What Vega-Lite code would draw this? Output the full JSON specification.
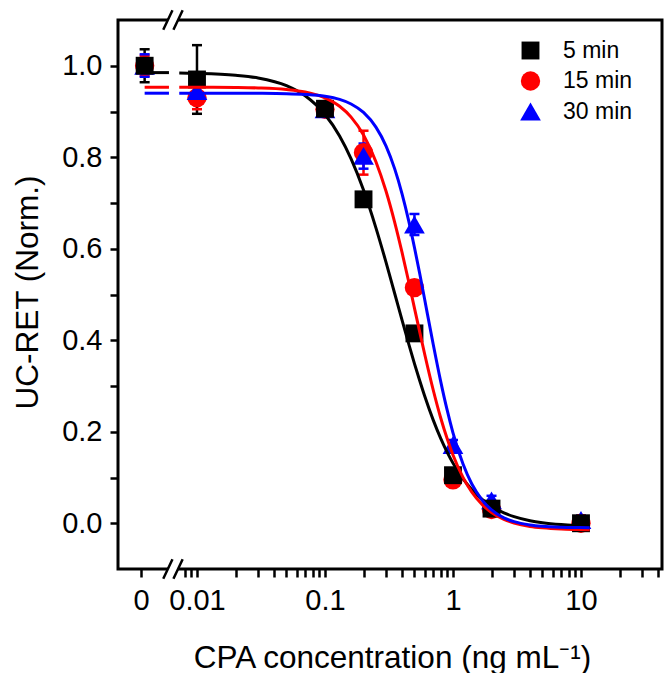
{
  "$schema": "https://vega.github.io/schema/vega-lite/v6.json",
  "width": 544,
  "height": 549,
  "autosize": {"type": "none"},
  "padding": {"left": 118, "top": 20, "right": 5, "bottom": 104},
  "background": "white",
  "config": {
    "view": {"stroke": "black", "strokeWidth": 3},
    "font": "Liberation Sans",
    "axis": {
      "grid": false, "domain": false, "tickColor": "black", "tickWidth": 2.5,
      "labelColor": "black", "titleColor": "black",
      "labelFont": "Liberation Sans", "titleFont": "Liberation Sans",
      "labelFontSize": 29, "titleFontSize": 31.5, "titleFontWeight": "normal",
      "labelOverlap": false, "labelFlush": false, "labelBound": false
    },
    "legend": {"labelFont": "Liberation Sans", "labelFontSize": 23, "labelColor": "black"}
  },
  "datasets": {
    "pts": [
      {"series": "15 min", "conc": 0.0039, "ret": 1.0, "lo": 0.978, "hi": 1.022},
      {"series": "15 min", "conc": 0.01, "ret": 0.93, "lo": 0.905, "hi": 0.955},
      {"series": "15 min", "conc": 0.1, "ret": 0.905, "lo": 0.895, "hi": 0.915},
      {"series": "15 min", "conc": 0.2, "ret": 0.81, "lo": 0.762, "hi": 0.858},
      {"series": "15 min", "conc": 0.5, "ret": 0.515, "lo": 0.505, "hi": 0.525},
      {"series": "15 min", "conc": 1, "ret": 0.095, "lo": 0.085, "hi": 0.105},
      {"series": "15 min", "conc": 2, "ret": 0.03, "lo": 0.02, "hi": 0.04},
      {"series": "15 min", "conc": 10, "ret": 0.0, "lo": -0.01, "hi": 0.01},
      {"series": "30 min", "conc": 0.0039, "ret": 1.0, "lo": 0.976, "hi": 1.025},
      {"series": "30 min", "conc": 0.01, "ret": 0.945, "lo": 0.935, "hi": 0.955},
      {"series": "30 min", "conc": 0.1, "ret": 0.905, "lo": 0.895, "hi": 0.915},
      {"series": "30 min", "conc": 0.2, "ret": 0.803, "lo": 0.775, "hi": 0.83},
      {"series": "30 min", "conc": 0.5, "ret": 0.653, "lo": 0.63, "hi": 0.676},
      {"series": "30 min", "conc": 1, "ret": 0.171, "lo": 0.16, "hi": 0.182},
      {"series": "30 min", "conc": 2, "ret": 0.05, "lo": 0.04, "hi": 0.06},
      {"series": "30 min", "conc": 10, "ret": 0.007, "lo": -0.003, "hi": 0.017},
      {"series": "5 min", "conc": 0.0039, "ret": 1.0, "lo": 0.964, "hi": 1.036},
      {"series": "5 min", "conc": 0.01, "ret": 0.97, "lo": 0.895, "hi": 1.045},
      {"series": "5 min", "conc": 0.1, "ret": 0.906, "lo": 0.896, "hi": 0.916},
      {"series": "5 min", "conc": 0.2, "ret": 0.708, "lo": 0.695, "hi": 0.72},
      {"series": "5 min", "conc": 0.5, "ret": 0.415, "lo": 0.405, "hi": 0.425},
      {"series": "5 min", "conc": 1, "ret": 0.105, "lo": 0.095, "hi": 0.115},
      {"series": "5 min", "conc": 2, "ret": 0.032, "lo": 0.022, "hi": 0.042},
      {"series": "5 min", "conc": 10, "ret": 0.0, "lo": -0.01, "hi": 0.01}
    ],
    "fit": [
      {"series": "5 min", "seg": "a", "conc": 0.0039, "ret": 0.985},
      {"series": "5 min", "seg": "a", "conc": 0.00604, "ret": 0.985},
      {"series": "5 min", "seg": "b", "conc": 0.00727, "ret": 0.984},
      {"series": "5 min", "seg": "b", "conc": 0.01, "ret": 0.9833},
      {"series": "5 min", "seg": "b", "conc": 0.02, "ret": 0.9793},
      {"series": "5 min", "seg": "b", "conc": 0.03, "ret": 0.9733},
      {"series": "5 min", "seg": "b", "conc": 0.05, "ret": 0.9565},
      {"series": "5 min", "seg": "b", "conc": 0.07, "ret": 0.9343},
      {"series": "5 min", "seg": "b", "conc": 0.1, "ret": 0.8934},
      {"series": "5 min", "seg": "b", "conc": 0.13, "ret": 0.8466},
      {"series": "5 min", "seg": "b", "conc": 0.16, "ret": 0.7964},
      {"series": "5 min", "seg": "b", "conc": 0.2, "ret": 0.7283},
      {"series": "5 min", "seg": "b", "conc": 0.25, "ret": 0.6457},
      {"series": "5 min", "seg": "b", "conc": 0.3, "ret": 0.5702},
      {"series": "5 min", "seg": "b", "conc": 0.35, "ret": 0.5027},
      {"series": "5 min", "seg": "b", "conc": 0.4, "ret": 0.4439},
      {"series": "5 min", "seg": "b", "conc": 0.45, "ret": 0.393},
      {"series": "5 min", "seg": "b", "conc": 0.5, "ret": 0.3489},
      {"series": "5 min", "seg": "b", "conc": 0.55, "ret": 0.3114},
      {"series": "5 min", "seg": "b", "conc": 0.6, "ret": 0.2787},
      {"series": "5 min", "seg": "b", "conc": 0.7, "ret": 0.226},
      {"series": "5 min", "seg": "b", "conc": 0.8, "ret": 0.1862},
      {"series": "5 min", "seg": "b", "conc": 0.9, "ret": 0.1556},
      {"series": "5 min", "seg": "b", "conc": 1.0, "ret": 0.1314},
      {"series": "5 min", "seg": "b", "conc": 1.2, "ret": 0.0969},
      {"series": "5 min", "seg": "b", "conc": 1.4, "ret": 0.0739},
      {"series": "5 min", "seg": "b", "conc": 1.7, "ret": 0.0515},
      {"series": "5 min", "seg": "b", "conc": 2, "ret": 0.0371},
      {"series": "5 min", "seg": "b", "conc": 2.5, "ret": 0.0228},
      {"series": "5 min", "seg": "b", "conc": 3, "ret": 0.0144},
      {"series": "5 min", "seg": "b", "conc": 4, "ret": 0.0056},
      {"series": "5 min", "seg": "b", "conc": 5, "ret": 0.0012},
      {"series": "5 min", "seg": "b", "conc": 7, "ret": -0.0029},
      {"series": "5 min", "seg": "b", "conc": 9, "ret": -0.0048},
      {"series": "5 min", "seg": "b", "conc": 11.7, "ret": -0.006},
      {"series": "15 min", "seg": "a", "conc": 0.0039, "ret": 0.953},
      {"series": "15 min", "seg": "a", "conc": 0.00604, "ret": 0.953},
      {"series": "15 min", "seg": "b", "conc": 0.00727, "ret": 0.953},
      {"series": "15 min", "seg": "b", "conc": 0.01, "ret": 0.9529},
      {"series": "15 min", "seg": "b", "conc": 0.02, "ret": 0.9524},
      {"series": "15 min", "seg": "b", "conc": 0.03, "ret": 0.9515},
      {"series": "15 min", "seg": "b", "conc": 0.05, "ret": 0.9482},
      {"series": "15 min", "seg": "b", "conc": 0.07, "ret": 0.9427},
      {"series": "15 min", "seg": "b", "conc": 0.1, "ret": 0.9298},
      {"series": "15 min", "seg": "b", "conc": 0.13, "ret": 0.9114},
      {"series": "15 min", "seg": "b", "conc": 0.16, "ret": 0.8877},
      {"series": "15 min", "seg": "b", "conc": 0.2, "ret": 0.8487},
      {"series": "15 min", "seg": "b", "conc": 0.25, "ret": 0.7903},
      {"series": "15 min", "seg": "b", "conc": 0.3, "ret": 0.7256},
      {"series": "15 min", "seg": "b", "conc": 0.35, "ret": 0.6583},
      {"series": "15 min", "seg": "b", "conc": 0.4, "ret": 0.5919},
      {"series": "15 min", "seg": "b", "conc": 0.45, "ret": 0.5289},
      {"series": "15 min", "seg": "b", "conc": 0.5, "ret": 0.4703},
      {"series": "15 min", "seg": "b", "conc": 0.55, "ret": 0.4179},
      {"series": "15 min", "seg": "b", "conc": 0.6, "ret": 0.3705},
      {"series": "15 min", "seg": "b", "conc": 0.7, "ret": 0.2918},
      {"series": "15 min", "seg": "b", "conc": 0.8, "ret": 0.2312},
      {"series": "15 min", "seg": "b", "conc": 0.9, "ret": 0.1851},
      {"series": "15 min", "seg": "b", "conc": 1.0, "ret": 0.1491},
      {"series": "15 min", "seg": "b", "conc": 1.2, "ret": 0.0997},
      {"series": "15 min", "seg": "b", "conc": 1.4, "ret": 0.0684},
      {"series": "15 min", "seg": "b", "conc": 1.7, "ret": 0.0401},
      {"series": "15 min", "seg": "b", "conc": 2, "ret": 0.0235},
      {"series": "15 min", "seg": "b", "conc": 2.5, "ret": 0.0084},
      {"series": "15 min", "seg": "b", "conc": 3, "ret": 0.0006},
      {"series": "15 min", "seg": "b", "conc": 4, "ret": -0.0069},
      {"series": "15 min", "seg": "b", "conc": 5, "ret": -0.0101},
      {"series": "15 min", "seg": "b", "conc": 7, "ret": -0.0128},
      {"series": "15 min", "seg": "b", "conc": 9, "ret": -0.0137},
      {"series": "15 min", "seg": "b", "conc": 11.7, "ret": -0.0143},
      {"series": "30 min", "seg": "a", "conc": 0.0039, "ret": 0.94},
      {"series": "30 min", "seg": "a", "conc": 0.00604, "ret": 0.94},
      {"series": "30 min", "seg": "b", "conc": 0.00727, "ret": 0.94},
      {"series": "30 min", "seg": "b", "conc": 0.01, "ret": 0.94},
      {"series": "30 min", "seg": "b", "conc": 0.02, "ret": 0.9399},
      {"series": "30 min", "seg": "b", "conc": 0.03, "ret": 0.9397},
      {"series": "30 min", "seg": "b", "conc": 0.05, "ret": 0.939},
      {"series": "30 min", "seg": "b", "conc": 0.07, "ret": 0.9374},
      {"series": "30 min", "seg": "b", "conc": 0.1, "ret": 0.9333},
      {"series": "30 min", "seg": "b", "conc": 0.13, "ret": 0.9264},
      {"series": "30 min", "seg": "b", "conc": 0.16, "ret": 0.9165},
      {"series": "30 min", "seg": "b", "conc": 0.2, "ret": 0.8979},
      {"series": "30 min", "seg": "b", "conc": 0.25, "ret": 0.8658},
      {"series": "30 min", "seg": "b", "conc": 0.3, "ret": 0.8244},
      {"series": "30 min", "seg": "b", "conc": 0.35, "ret": 0.7751},
      {"series": "30 min", "seg": "b", "conc": 0.4, "ret": 0.7201},
      {"series": "30 min", "seg": "b", "conc": 0.45, "ret": 0.662},
      {"series": "30 min", "seg": "b", "conc": 0.5, "ret": 0.6027},
      {"series": "30 min", "seg": "b", "conc": 0.55, "ret": 0.5455},
      {"series": "30 min", "seg": "b", "conc": 0.6, "ret": 0.4901},
      {"series": "30 min", "seg": "b", "conc": 0.7, "ret": 0.3918},
      {"series": "30 min", "seg": "b", "conc": 0.8, "ret": 0.3113},
      {"series": "30 min", "seg": "b", "conc": 0.9, "ret": 0.2476},
      {"series": "30 min", "seg": "b", "conc": 1.0, "ret": 0.1976},
      {"series": "30 min", "seg": "b", "conc": 1.2, "ret": 0.1288},
      {"series": "30 min", "seg": "b", "conc": 1.4, "ret": 0.0863},
      {"series": "30 min", "seg": "b", "conc": 1.7, "ret": 0.0496},
      {"series": "30 min", "seg": "b", "conc": 2, "ret": 0.0292},
      {"series": "30 min", "seg": "b", "conc": 2.5, "ret": 0.0118},
      {"series": "30 min", "seg": "b", "conc": 3, "ret": 0.0035},
      {"series": "30 min", "seg": "b", "conc": 4, "ret": -0.0037},
      {"series": "30 min", "seg": "b", "conc": 5, "ret": -0.0066},
      {"series": "30 min", "seg": "b", "conc": 7, "ret": -0.0086},
      {"series": "30 min", "seg": "b", "conc": 9, "ret": -0.0093},
      {"series": "30 min", "seg": "b", "conc": 11.7, "ret": -0.0096}
    ],
    "brk": [
      {"conc": 0.00649, "ret": 1.1},
      {"conc": 0.00649, "ret": -0.1}
    ]
  },
  "encoding": {
    "x": {
      "field": "conc", "type": "quantitative",
      "scale": {"type": "log", "domain": [0.002415, 42.95], "nice": false},
      "axis": {
        "title": "CPA concentration (ng mL⁻¹)",
        "values": [0.00365, 0.008, 0.009, 0.01, 0.02, 0.03, 0.04, 0.05, 0.06, 0.07, 0.08, 0.09, 0.1, 0.2, 0.3, 0.4, 0.5, 0.6, 0.7, 0.8, 0.9, 1, 2, 3, 4, 5, 6, 7, 8, 9, 10, 20, 30, 40],
        "labelExpr": "datum.value < 0.005 ? '0' : datum.value == 0.01 ? '0.01' : datum.value == 0.1 ? '0.1' : datum.value == 1 ? '1' : datum.value == 10 ? '10' : ''",
        "tickSize": 8,
        "labelPadding": 9,
        "titleX": 274,
        "titleY": 98,
        "titleBaseline": "alphabetic",
        "encode": {"ticks": {"update": {"y2": {"signal": "indexof([0.00365, 0.01, 0.1, 1, 10], datum.value) >= 0 ? 8 : 4"}}}}
      }
    },
    "y": {
      "field": "ret", "type": "quantitative",
      "scale": {"domain": [-0.1, 1.1], "nice": false, "zero": false},
      "axis": {
        "title": "UC-RET (Norm.)",
        "values": [0, 0.1, 0.2, 0.3, 0.4, 0.5, 0.6, 0.7, 0.8, 0.9, 1.0],
        "labelExpr": "indexof([0, 0.2, 0.4, 0.6, 0.8, 1], datum.value) >= 0 ? format(datum.value, '.1f') : ''",
        "tickSize": 8,
        "labelPadding": 8,
        "titleX": -81,
        "titleY": 272,
        "titleBaseline": "alphabetic",
        "encode": {"ticks": {"update": {"x2": {"signal": "indexof([0, 0.2, 0.4, 0.6, 0.8, 1], datum.value) >= 0 ? -8 : -4"}}}}
      }
    }
  },
  "layer": [
    {
      "data": {"name": "pts"},
      "mark": {"type": "rule", "strokeWidth": 2.5},
      "encoding": {
        "y": {
          "field": "lo", "type": "quantitative",
          "axis": {
            "title": "UC-RET (Norm.)",
            "values": [0, 0.1, 0.2, 0.3, 0.4, 0.5, 0.6, 0.7, 0.8, 0.9, 1.0],
            "labelExpr": "indexof([0, 0.2, 0.4, 0.6, 0.8, 1], datum.value) >= 0 ? format(datum.value, '.1f') : ''",
            "tickSize": 8,
            "labelPadding": 8,
            "titleX": -81,
            "titleY": 272,
            "titleBaseline": "alphabetic",
            "encode": {"ticks": {"update": {"x2": {"signal": "indexof([0, 0.2, 0.4, 0.6, 0.8, 1], datum.value) >= 0 ? -8 : -4"}}}}
          }
        },
        "y2": {"field": "hi"},
        "color": {"field": "series", "type": "nominal", "scale": {"domain": ["5 min", "15 min", "30 min"], "range": ["#000000", "#ff0000", "#0000ff"]}, "legend": null}
      }
    },
    {
      "data": {"name": "pts"},
      "mark": {"type": "tick", "orient": "horizontal", "size": 10, "thickness": 2.5, "opacity": 1},
      "encoding": {
        "y": {
          "field": "lo", "type": "quantitative",
          "axis": {
            "title": "UC-RET (Norm.)",
            "values": [0, 0.1, 0.2, 0.3, 0.4, 0.5, 0.6, 0.7, 0.8, 0.9, 1.0],
            "labelExpr": "indexof([0, 0.2, 0.4, 0.6, 0.8, 1], datum.value) >= 0 ? format(datum.value, '.1f') : ''",
            "tickSize": 8,
            "labelPadding": 8,
            "titleX": -81,
            "titleY": 272,
            "titleBaseline": "alphabetic",
            "encode": {"ticks": {"update": {"x2": {"signal": "indexof([0, 0.2, 0.4, 0.6, 0.8, 1], datum.value) >= 0 ? -8 : -4"}}}}
          }
        },
        "color": {"field": "series", "type": "nominal", "scale": {"domain": ["5 min", "15 min", "30 min"], "range": ["#000000", "#ff0000", "#0000ff"]}, "legend": null}
      }
    },
    {
      "data": {"name": "pts"},
      "mark": {"type": "tick", "orient": "horizontal", "size": 10, "thickness": 2.5, "opacity": 1},
      "encoding": {
        "y": {
          "field": "hi", "type": "quantitative",
          "axis": {
            "title": "UC-RET (Norm.)",
            "values": [0, 0.1, 0.2, 0.3, 0.4, 0.5, 0.6, 0.7, 0.8, 0.9, 1.0],
            "labelExpr": "indexof([0, 0.2, 0.4, 0.6, 0.8, 1], datum.value) >= 0 ? format(datum.value, '.1f') : ''",
            "tickSize": 8,
            "labelPadding": 8,
            "titleX": -81,
            "titleY": 272,
            "titleBaseline": "alphabetic",
            "encode": {"ticks": {"update": {"x2": {"signal": "indexof([0, 0.2, 0.4, 0.6, 0.8, 1], datum.value) >= 0 ? -8 : -4"}}}}
          }
        },
        "color": {"field": "series", "type": "nominal", "scale": {"domain": ["5 min", "15 min", "30 min"], "range": ["#000000", "#ff0000", "#0000ff"]}, "legend": null}
      }
    },
    {
      "data": {"name": "pts"},
      "mark": {"type": "point", "filled": true, "opacity": 1, "strokeWidth": 0},
      "encoding": {
        "color": {
          "field": "series", "type": "nominal",
          "scale": {"domain": ["5 min", "15 min", "30 min"], "range": ["#000000", "#ff0000", "#0000ff"]},
          "legend": {"title": null, "orient": "none", "legendX": 401, "legendY": 19, "rowPadding": 6.5, "labelOffset": 21, "symbolStrokeWidth": 0}
        },
        "shape": {
          "field": "series", "type": "nominal",
          "scale": {"domain": ["5 min", "15 min", "30 min"], "range": ["square", "circle", "triangle-up"]},
          "legend": {"title": null, "orient": "none", "legendX": 401, "legendY": 19, "rowPadding": 6.5, "labelOffset": 21, "symbolStrokeWidth": 0}
        },
        "size": {
          "field": "series", "type": "nominal",
          "scale": {"domain": ["5 min", "15 min", "30 min"], "range": [320, 430, 576]},
          "legend": {"title": null, "orient": "none", "legendX": 401, "legendY": 19, "rowPadding": 6.5, "labelOffset": 21, "symbolStrokeWidth": 0}
        }
      }
    },
    {
      "data": {"name": "fit"},
      "mark": {"type": "line", "strokeWidth": 3, "interpolate": "monotone"},
      "encoding": {
        "color": {"field": "series", "type": "nominal", "scale": {"domain": ["5 min", "15 min", "30 min"], "range": ["#000000", "#ff0000", "#0000ff"]}, "legend": null},
        "detail": {"field": "seg", "type": "nominal"}
      }
    },
    {
      "data": {"name": "brk"},
      "mark": {"type": "point", "shape": "M-0.6675,0.3L0.3825,0.3L0.6675,-0.3L-0.3825,-0.3Z", "size": 376, "filled": true, "color": "white", "opacity": 1, "strokeWidth": 0, "clip": false},
      "encoding": {}
    },
    {
      "data": {"name": "brk"},
      "mark": {"type": "point", "shape": "M-1,1L-0.05,-1M0.05,1L1,-1", "size": 376, "filled": false, "stroke": "black", "strokeWidth": 2.5, "opacity": 1, "clip": false},
      "encoding": {}
    }
  ],
  "resolve": {"scale": {"color": "independent", "shape": "independent", "size": "independent"}}
}
